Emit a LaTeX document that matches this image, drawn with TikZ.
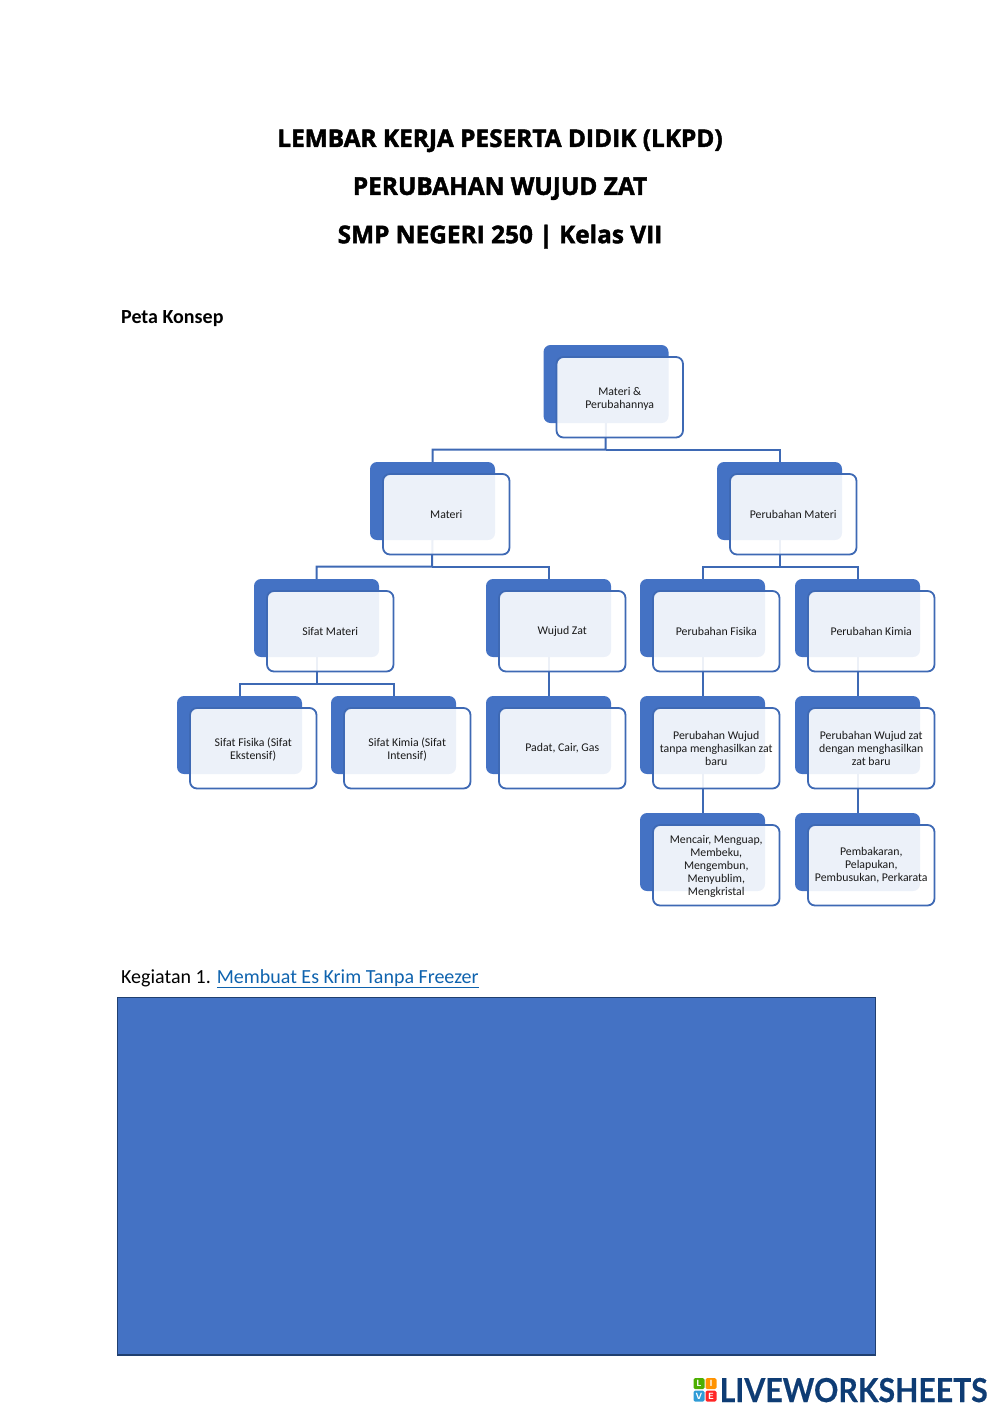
\documentclass[tikz,border=0pt]{standalone}
\usepackage{fontspec}
\setmainfont{Carlito}
\newfontfamily\titlefont[BoldFeatures={FakeBold=1.8}]{Open Sans}
\newfontfamily\logofont[BoldFeatures={FakeBold=0.5}]{Lato}
\definecolor{acc}{HTML}{4472C4}
\definecolor{edge}{HTML}{3E69B4}
\definecolor{bigedge}{HTML}{203F70}
\definecolor{linkc}{HTML}{0F63AE}
\definecolor{logoc}{HTML}{0E3C74}
\pgfdeclarelayer{bg}
\pgfsetlayers{bg,main}
\newcommand{\pushdown}[1]{\rule{0pt}{#1pt}}
\tikzset{
  darkbox/.style={fill=acc,rounded corners=7pt,minimum width=125pt,minimum height=78pt,inner sep=0pt,outer sep=0pt,anchor=north west},
  lightbox/.style={draw=edge,line width=1.8pt,fill=white,fill opacity=0.9,text opacity=1,rounded corners=7pt,minimum width=126.5pt,minimum height=80.5pt,inner sep=0pt,outer sep=0pt,anchor=north west,align=center,font=\fontsize{11.8}{13}\selectfont,text=black!90},
  wire/.style={draw=edge,line width=2pt},
  titletext/.style={font=\titlefont\bfseries\fontsize{24.4}{27}\selectfont,text=black,inner sep=0pt},
  bodytext/.style={font=\fontsize{20}{22}\selectfont,text=black,inner sep=0pt,anchor=base west},
  logosq/.style={rounded corners=1.5pt,minimum size=11pt,inner sep=0pt,outer sep=0pt,text=white,font=\sffamily\bfseries\fontsize{9}{9}\selectfont},
}
\newcommand{\conceptbox}[4]{%
  \node[darkbox] (#1D) at (#2,#3) {};
  \node[lightbox] (#1) at (#2+13,#3+12) {#4};
}
\begin{document}
\begin{tikzpicture}[x=1pt,y=-1pt]
\useasboundingbox (0,0) rectangle (1000,1414);
\node[titletext] (t1) at (500,140.7) {LEMBAR KERJA PESERTA DIDIK (LKPD)};
\node[titletext] (t2) at (500,188.7) {PERUBAHAN WUJUD ZAT};
\node[titletext] (t3) at (500,236.7) {SMP NEGERI 250 | Kelas VII};
\node[bodytext,font=\bfseries\fontsize{20}{22}\selectfont] (peta) at (121,323) {Peta Konsep};

\conceptbox{root}{543.5}{345}{\pushdown{12}Materi \&\\Perubahannya}
\conceptbox{materi}{370}{462}{Materi}
\conceptbox{perub}{717}{462}{Perubahan Materi}
\conceptbox{sifat}{254}{579}{Sifat Materi}
\conceptbox{wujud}{486}{579}{Wujud Zat}
\conceptbox{fisika}{640}{579}{Perubahan Fisika}
\conceptbox{kimia}{795}{579}{Perubahan Kimia}
\conceptbox{sfis}{177}{696}{\pushdown{11}Sifat Fisika (Sifat\\Ekstensif)}
\conceptbox{skim}{331}{696}{\pushdown{11}Sifat Kimia (Sifat\\Intensif)}
\conceptbox{padat}{486}{696}{Padat, Cair, Gas}
\conceptbox{wtanpa}{640}{696}{Perubahan Wujud\\tanpa menghasilkan zat\\baru}
\conceptbox{wdengan}{795}{696}{Perubahan Wujud zat\\dengan menghasilkan\\zat baru}
\conceptbox{mencair}{640}{813}{\pushdown{11}Mencair, Menguap,\\Membeku,\\Mengembun,\\Menyublim,\\Mengkristal}
\conceptbox{bakar}{795}{813}{Pembakaran,\\Pelapukan,\\Pembusukan, Perkarata}

\coordinate (b1) at (605.5,449.5);
\coordinate (b2) at (432,566.5);
\coordinate (b3) at (779.5,566.5);
\coordinate (b4) at (316.5,683.5);
\begin{pgfonlayer}{bg}
\draw[wire] (rootD.south) -- (b1) -| (materiD.north);
\draw[wire] (b1) -| (perubD.north);
\draw[wire] (materiD.south) -- (b2) -| (sifatD.north);
\draw[wire] (b2) -| (wujudD.north);
\draw[wire] (perubD.south) -- (b3) -| (fisikaD.north);
\draw[wire] (b3) -| (kimiaD.north);
\draw[wire] (sifatD.south) -- (b4) -| (sfisD.north);
\draw[wire] (b4) -| (skimD.north);
\draw[wire] (wujudD.south) -- (padatD.north);
\draw[wire] (fisikaD.south) -- (wtanpaD.north);
\draw[wire] (kimiaD.south) -- (wdenganD.north);
\draw[wire] (wtanpaD.south) -- (mencairD.north);
\draw[wire] (wdenganD.south) -- (bakarD.north);
\end{pgfonlayer}

\node[bodytext] (keg) at (121,983) {Kegiatan 1. {\color{linkc}\underline{Membuat Es Krim Tanpa Freezer}}};
\node[draw=bigedge,line width=1.8pt,fill=acc,minimum width=758pt,minimum height=357.5pt,inner sep=0pt,outer sep=0pt,anchor=north west] (big) at (117.5,997.5) {};

\node[logosq,fill=green!55!black!70!yellow,anchor=north west] (lL) at (693.5,1378) {L};
\node[logosq,fill=orange!85!yellow,anchor=north west] (lI) at (705.5,1378) {I};
\node[logosq,fill=acc!70!cyan,anchor=north west] (lV) at (693.5,1390.5) {V};
\node[logosq,fill=red!80!pink,anchor=north west] (lE) at (705.5,1390.5) {E};
\node[font=\logofont\bfseries\fontsize{33}{33}\selectfont,text=logoc,inner sep=0pt,anchor=base west,xscale=0.915,transform shape] (logo) at (719.5,1402) {LIVEWORKSHEETS};
\end{tikzpicture}
\end{document}
